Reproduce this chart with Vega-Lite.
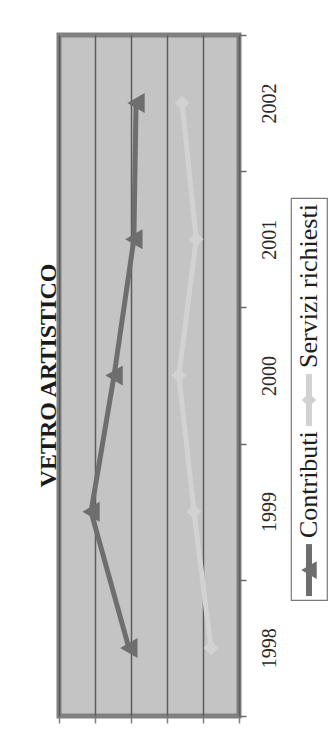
{
  "$schema": "https://vega.github.io/schema/vega-lite/v6.json",
  "background": "white",
  "padding": {"left": 34, "top": 31, "right": 0, "bottom": 0},
  "bounds": "flush",
  "spacing": 52,
  "config": {"font": "Liberation Serif"},
  "hconcat": [
    {
      "width": 180,
      "height": 681,
      "title": {"text": "VETRO ARTISTICO", "orient": "left", "anchor": "middle", "font": "Liberation Serif", "fontSize": 24, "fontWeight": "bold", "color": "#1a1a1a", "offset": -3},
      "view": {"fill": "#c4c4c4", "stroke": "#808080", "strokeWidth": 5},
      "data": {"values": [
        {"year": 1998, "series": "Contributi", "value": 306},
        {"year": 1999, "series": "Contributi", "value": 411},
        {"year": 2000, "series": "Contributi", "value": 347},
        {"year": 2001, "series": "Contributi", "value": 292},
        {"year": 2002, "series": "Contributi", "value": 286},
        {"year": 1998, "series": "Servizi richiesti", "value": 78},
        {"year": 1999, "series": "Servizi richiesti", "value": 125},
        {"year": 2000, "series": "Servizi richiesti", "value": 167},
        {"year": 2001, "series": "Servizi richiesti", "value": 119},
        {"year": 2002, "series": "Servizi richiesti", "value": 158}
      ]},
      "encoding": {
        "x": {"field": "value", "type": "quantitative",
          "scale": {"domain": [0, 500], "reverse": true, "nice": false, "zero": true},
          "axis": {"orient": "bottom", "values": [0, 100, 200, 300, 400, 500], "labels": false, "title": null, "domain": false, "ticks": true, "tickSize": 7, "tickColor": "#808080", "tickWidth": 1.5, "grid": true, "gridColor": "#5c5c5c", "gridWidth": 1.5, "gridOpacity": 1}},
        "y": {"field": "year", "type": "quantitative",
          "scale": {"domain": [1997.5, 2002.5], "nice": false, "zero": false},
          "axis": {"orient": "right", "values": [1997.5, 1998.5, 1999.5, 2000.5, 2001.5, 2002.5], "grid": false, "domain": false, "tickSize": 7, "tickColor": "#6a6a6a", "tickWidth": 1.5,
            "labelExpr": "datum.value < 1998 ? '' : format(datum.value - 0.5, 'd')",
            "labelAngle": 270, "labelOffset": 68, "labelPadding": 13, "labelAlign": "center", "labelBaseline": "top",
            "labelFont": "Liberation Serif", "labelFontSize": 20, "labelColor": "#2a2a2a", "title": null}},
        "color": {"field": "series", "type": "nominal",
          "scale": {"domain": ["Contributi", "Servizi richiesti"], "range": ["#6e6e6e", "#d2d2d2"]}, "legend": null},
        "order": {"field": "year", "type": "quantitative"}
      },
      "layer": [
        {"mark": {"type": "line", "strokeWidth": 5}},
        {"transform": [{"filter": "datum.series === 'Contributi'"}],
         "mark": {"type": "point", "filled": true, "opacity": 1, "shape": "triangle-left", "size": 400}},
        {"transform": [{"filter": "datum.series === 'Servizi richiesti'"}],
         "mark": {"type": "point", "filled": true, "opacity": 1, "shape": "diamond", "size": 220}}
      ]
    },
    {
      "spacing": 0,
      "vconcat": [
        {
          "width": 36,
          "height": 162,
          "view": {"fill": "white", "stroke": null},
          "data": {"values": [{"series": "Contributi"}]},
          "mark": {"type": "point", "opacity": 0}
        },
        {
          "width": 36,
          "height": 402,
          "view": {"fill": "white", "stroke": "#7a7a7a", "strokeWidth": 1.2},
          "data": {"values": [{"series": "Servizi richiesti"}, {"series": "Contributi"}]},
          "encoding": {
            "y": {"field": "series", "type": "nominal",
              "scale": {"type": "point", "domain": ["Servizi richiesti", "Contributi"], "padding": 0.682, "align": 0.871}, "axis": null},
            "x": {"datum": 0.5, "type": "quantitative", "scale": {"domain": [0, 1]}, "axis": null},
            "color": {"field": "series", "type": "nominal",
              "scale": {"domain": ["Contributi", "Servizi richiesti"], "range": ["#6e6e6e", "#d2d2d2"]}, "legend": null}
          },
          "layer": [
            {"mark": {"type": "rule", "strokeWidth": 6, "yOffset": -26, "y2Offset": 26},
             "encoding": {"y2": {"field": "series"}}},
            {"transform": [{"filter": "datum.series === 'Contributi'"}],
             "mark": {"type": "point", "filled": true, "opacity": 1, "shape": "triangle-left", "size": 320}},
            {"transform": [{"filter": "datum.series === 'Servizi richiesti'"}],
             "mark": {"type": "point", "filled": true, "opacity": 1, "shape": "diamond", "size": 200}},
            {"mark": {"type": "text", "angle": 270, "align": "left", "baseline": "middle", "yOffset": -32, "font": "Liberation Serif", "fontSize": 26, "color": "#1e1e1e"},
             "encoding": {"text": {"field": "series"}, "color": {"value": "#1e1e1e"}}}
          ]
        }
      ]
    }
  ]
}
